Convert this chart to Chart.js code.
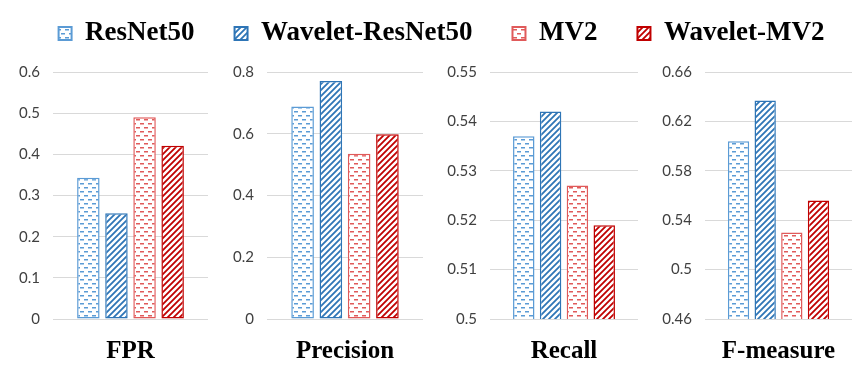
<!DOCTYPE html>
<html>
<head>
<meta charset="utf-8">
<script src="https://cdn.jsdelivr.net/npm/chart.js@4.4.1/dist/chart.umd.min.js"></script>
<style>
  body { margin: 0; background: #fff; }
  #wrap { position: relative; width: 865px; height: 368px; overflow: hidden; }
  .box { position: absolute; }
</style>
</head>
<body>
<div id="wrap"></div>
<script>
// Metrics (one small chart per metric)
const categories = ['FPR', 'Precision', 'Recall', 'F-measure'];
const seriesNames = ['ResNet50', 'Wavelet-ResNet50', 'MV2', 'Wavelet-MV2'];

// Values, in the order of categories
const resnet50        = [0.343, 0.688, 0.537, 0.604];
const waveletResnet50 = [0.257, 0.771, 0.542, 0.637];
const mv2             = [0.490, 0.535, 0.527, 0.530];
const waveletMv2      = [0.421, 0.598, 0.519, 0.556];

// Y axis range of every panel
const axisMin  = [0, 0, 0.5, 0.46];
const axisMax  = [0.6, 0.8, 0.55, 0.66];
const axisStep = [0.1, 0.2, 0.01, 0.04];

// Layout of the panels: left edge and width of each canvas
const panelLeft  = [3, 217, 440, 655];
const panelWidth = [207, 208, 200, 199];

const colors = ['#5B9BD5', '#2E75B6', '#E05A5A', '#C00000'];

// Small horizontal dashes, staggered
function dashPattern(color) {
  const c = document.createElement('canvas');
  c.width = 8; c.height = 8;
  const g = c.getContext('2d');
  g.fillStyle = '#fff';
  g.fillRect(0, 0, 8, 8);
  g.fillStyle = color;
  g.fillRect(1, 1, 4, 1.5);
  g.fillRect(5, 5, 4, 1.5);
  g.fillRect(-3, 5, 4, 1.5);
  return g.createPattern(c, 'repeat');
}

// Upward diagonal stripes
function stripePattern(color) {
  const c = document.createElement('canvas');
  c.width = 6; c.height = 6;
  const g = c.getContext('2d');
  g.fillStyle = '#fff';
  g.fillRect(0, 0, 6, 6);
  g.strokeStyle = color;
  g.lineWidth = 1.8;
  g.beginPath();
  g.moveTo(0, 6); g.lineTo(6, 0);
  g.moveTo(-3, 3); g.lineTo(3, -3);
  g.moveTo(3, 9); g.lineTo(9, 3);
  g.stroke();
  return g.createPattern(c, 'repeat');
}

const fills = [
  dashPattern(colors[0]),
  stripePattern(colors[1]),
  dashPattern(colors[2]),
  stripePattern(colors[3])
];
const seriesValues = [resnet50, waveletResnet50, mv2, waveletMv2];

function makeBox(id, left, top, width, height) {
  const div = document.createElement('div');
  div.className = 'box';
  div.style.left = left + 'px';
  div.style.top = top + 'px';
  div.style.width = width + 'px';
  div.style.height = height + 'px';
  const cv = document.createElement('canvas');
  cv.id = id;
  div.appendChild(cv);
  document.getElementById('wrap').appendChild(div);
  return cv;
}

function datasetsFor(index) {
  return seriesNames.map((name, s) => ({
    label: name,
    data: index === null ? [] : [seriesValues[s][index]],
    backgroundColor: fills[s],
    borderColor: colors[s],
    borderWidth: index === null ? 2 : 1.5,
    borderSkipped: false,
    categoryPercentage: 0.725,
    barPercentage: 0.8
  }));
}

// Legend only chart across the top
new Chart(makeBox('legendChart', 0, -20, 865, 250), {
  type: 'bar',
  data: { labels: [], datasets: datasetsFor(null) },
  options: {
    responsive: true,
    maintainAspectRatio: false,
    animation: false,
    layout: { padding: { left: 18 } },
    plugins: {
      tooltip: { enabled: false },
      legend: {
        position: 'top',
        labels: {
          boxWidth: 13,
          boxHeight: 13,
          padding: 40,
          color: '#000',
          font: { family: 'Liberation Serif', size: 27, weight: 'bold' }
        }
      }
    },
    scales: { x: { display: false }, y: { display: false } }
  }
});

// One panel per metric
categories.forEach((cat, i) => {
  new Chart(makeBox('panel' + i, panelLeft[i], 50, panelWidth[i], 318), {
    type: 'bar',
    data: { labels: [cat], datasets: datasetsFor(i) },
    options: {
      responsive: true,
      maintainAspectRatio: false,
      animation: false,
      layout: { padding: { top: 15, right: 2, bottom: 0, left: 0 } },
      plugins: { legend: { display: false }, tooltip: { enabled: false } },
      scales: {
        x: {
          grid: { display: false },
          border: { display: false },
          afterFit: (s) => { s.height = 49; },
          ticks: {
            padding: 10,
            color: '#000',
            font: { family: 'Liberation Serif', size: 25, weight: 'bold' }
          }
        },
        y: {
          min: axisMin[i],
          max: axisMax[i],
          afterFit: (s) => { s.width = 50; },
          grid: { color: '#D9D9D9', lineWidth: 1, drawTicks: false },
          border: { display: false },
          ticks: {
            stepSize: axisStep[i],
            padding: 13,
            color: '#404040',
            font: { family: 'Lato', size: 15 },
            callback: (v) => String(+v.toFixed(2))
          }
        }
      }
    }
  });
});
</script>
</body>
</html>
